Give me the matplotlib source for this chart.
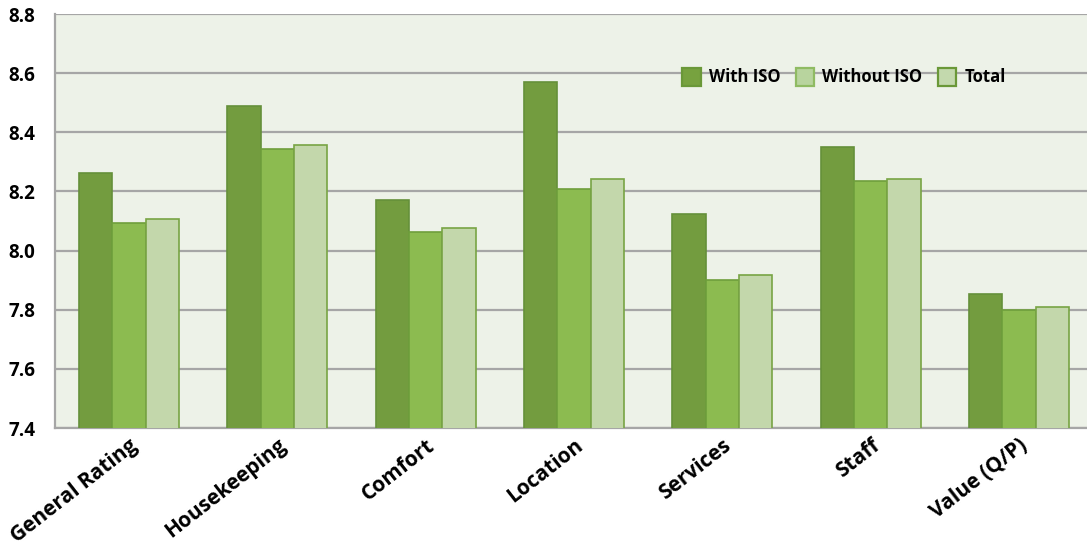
import numpy as np
import matplotlib.pyplot as plt

plt.rcParams['font.family'] = ['Open Sans', 'DejaVu Sans']

categories = ['General Rating', 'Housekeeping', 'Comfort', 'Location',
              'Services', 'Staff', 'Value (Q/P)']
with_iso = [8.264, 8.489, 8.171, 8.570, 8.123, 8.351, 7.853]
without_iso = [8.092, 8.342, 8.064, 8.208, 7.899, 8.236, 7.800]
total = [8.107, 8.358, 8.076, 8.243, 7.919, 8.242, 7.808]
y_ticks = [7.4, 7.6, 7.8, 8.0, 8.2, 8.4, 8.6, 8.8]

fig = plt.figure(figsize=(10.87, 5.6), dpi=100)
# axes runs slightly past the right edge, like the original
ax = fig.add_axes([55 / 1087, 132 / 560, 1038 / 1087, 414 / 560])
ax.set_facecolor('#edf2e8')

x = np.arange(len(categories))
w = 0.225
ax.bar(x - w, with_iso, w, color='#739c3f', edgecolor='#65903a',
       linewidth=1.2, label='With ISO', zorder=3)
ax.bar(x, without_iso, w, color='#8cbb50', edgecolor='#6f9f3c',
       linewidth=1.2, label='Without ISO', zorder=3)
ax.bar(x + w, total, w, color='#c3d7ab', edgecolor='#78a444',
       linewidth=1.2, label='Total', zorder=3)

ax.set_xlim(-0.5, len(categories) - 0.5)
ax.set_ylim(7.4, 8.8)
ax.set_yticks(y_ticks)
ax.set_yticklabels([f'{v:.1f}' for v in y_ticks], fontsize=13.5, fontweight='bold')
ax.yaxis.grid(True, color='#a6a6a6', linewidth=1.6, zorder=1)
ax.tick_params(axis='y', length=0, pad=14)
ax.tick_params(axis='x', length=0, pad=5)

ax.set_xticks(x)
ax.set_xticklabels(categories, rotation=38, ha='right', va='top',
                   rotation_mode='anchor', fontsize=15, fontweight='bold')

for side in ['top', 'right']:
    ax.spines[side].set_visible(False)
for side in ['left', 'bottom']:
    ax.spines[side].set_color('#a6a6a6')
    ax.spines[side].set_linewidth(1.6)

leg = ax.legend(loc='center left', bbox_to_anchor=(0.59, 0.848), ncol=3,
                frameon=False, handlelength=1.1, handleheight=1.3,
                handletextpad=0.5, columnspacing=0.9,
                prop={'size': 12, 'weight': 'bold'})
legend_faces = ['#77a23f', '#b8d49e', '#c3d9ad']
legend_edges = ['#6a9838', '#8fbb62', '#6a9838']
for patch, fc, ec in zip(leg.get_patches(), legend_faces, legend_edges):
    patch.set_facecolor(fc)
    patch.set_edgecolor(ec)
    patch.set_linewidth(1.6)

fig.savefig('out.png', dpi=100)
